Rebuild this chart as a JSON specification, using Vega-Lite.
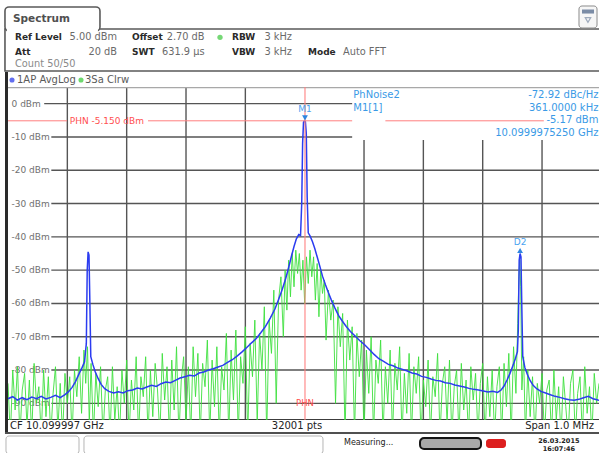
{
"$schema":"https://vega.github.io/schema/vega-lite/v6.json",
"padding":0,
"background":"white",
"spacing":0,
"config":{"font":"DejaVu Sans","view":{"stroke":null},"concat":{"spacing":0}},
"datasets":{
"blue":[{"f":-500,"db":-88.6},{"f":-492,"db":-88.0},{"f":-484,"db":-89.0},{"f":-476,"db":-88.3},{"f":-468,"db":-88.9},{"f":-460,"db":-88.1},{"f":-452,"db":-88.6},{"f":-444,"db":-87.9},{"f":-436,"db":-88.7},{"f":-428,"db":-88.2},{"f":-420,"db":-87.6},{"f":-412,"db":-88.3},{"f":-404,"db":-87.4},{"f":-398,"db":-86.5},{"f":-392,"db":-85.2},{"f":-386,"db":-83.4},{"f":-380,"db":-81.0},{"f":-375,"db":-79.2},{"f":-371,"db":-77.5},{"f":-368,"db":-72},{"f":-366.5,"db":-50},{"f":-365,"db":-44.5},{"f":-363.5,"db":-45.5},{"f":-362,"db":-60},{"f":-360.5,"db":-76},{"f":-357,"db":-78.3},{"f":-353,"db":-80.5},{"f":-348,"db":-82.6},{"f":-343,"db":-84.3},{"f":-337,"db":-85.6},{"f":-330,"db":-86.4},{"f":-322,"db":-86.9},{"f":-314,"db":-86.5},{"f":-306,"db":-86.9},{"f":-298,"db":-86.2},{"f":-290,"db":-86.0},{"f":-282,"db":-85.4},{"f":-274,"db":-85.7},{"f":-266,"db":-85.1},{"f":-258,"db":-84.6},{"f":-250,"db":-84.9},{"f":-242,"db":-84.1},{"f":-234,"db":-83.6},{"f":-226,"db":-83.8},{"f":-218,"db":-83.1},{"f":-210,"db":-82.4},{"f":-202,"db":-82.0},{"f":-194,"db":-81.6},{"f":-186,"db":-81.8},{"f":-178,"db":-80.9},{"f":-170,"db":-80.6},{"f":-162,"db":-80.0},{"f":-154,"db":-79.6},{"f":-146,"db":-79.1},{"f":-138,"db":-78.6},{"f":-130,"db":-77.7},{"f":-122,"db":-76.9},{"f":-114,"db":-75.8},{"f":-106,"db":-74.6},{"f":-98,"db":-73.3},{"f":-90,"db":-71.9},{"f":-82,"db":-70.6},{"f":-74,"db":-68.8},{"f":-66,"db":-66.9},{"f":-58,"db":-64.4},{"f":-50,"db":-61.6},{"f":-44,"db":-58.8},{"f":-38,"db":-55.9},{"f":-32,"db":-52.5},{"f":-27,"db":-49.2},{"f":-22,"db":-45.6},{"f":-18,"db":-42.9},{"f":-14,"db":-40.6},{"f":-10,"db":-39.3},{"f":-7,"db":-39.6},{"f":-5,"db":-30},{"f":-3.5,"db":-12},{"f":-2,"db":-5.6},{"f":-0.5,"db":-5.2},{"f":1.2,"db":-5.4},{"f":2.7,"db":-9},{"f":4.2,"db":-28},{"f":6,"db":-38.8},{"f":9,"db":-39.7},{"f":13,"db":-41.4},{"f":17,"db":-43.5},{"f":21,"db":-46.0},{"f":25,"db":-48.5},{"f":30,"db":-51.8},{"f":35,"db":-54.4},{"f":40,"db":-56.8},{"f":45,"db":-59.0},{"f":51,"db":-61.4},{"f":57,"db":-63.6},{"f":63,"db":-65.2},{"f":70,"db":-66.9},{"f":77,"db":-68.4},{"f":85,"db":-69.8},{"f":93,"db":-71.2},{"f":101,"db":-72.4},{"f":109,"db":-73.8},{"f":117,"db":-75.3},{"f":125,"db":-76.6},{"f":133,"db":-77.4},{"f":141,"db":-78.3},{"f":149,"db":-78.7},{"f":157,"db":-79.4},{"f":165,"db":-79.8},{"f":173,"db":-80.3},{"f":181,"db":-80.9},{"f":189,"db":-81.2},{"f":197,"db":-81.9},{"f":205,"db":-82.2},{"f":213,"db":-82.7},{"f":221,"db":-83.1},{"f":229,"db":-83.3},{"f":237,"db":-83.8},{"f":245,"db":-84.0},{"f":253,"db":-84.5},{"f":261,"db":-84.8},{"f":269,"db":-85.1},{"f":277,"db":-85.5},{"f":285,"db":-85.8},{"f":293,"db":-86.0},{"f":301,"db":-86.3},{"f":309,"db":-86.6},{"f":317,"db":-86.4},{"f":325,"db":-86.7},{"f":331,"db":-86.0},{"f":336,"db":-84.8},{"f":341,"db":-83.0},{"f":346,"db":-81.0},{"f":351,"db":-78.6},{"f":355,"db":-76.6},{"f":358.5,"db":-74.5},{"f":360,"db":-68},{"f":361.5,"db":-47},{"f":363,"db":-45},{"f":364.5,"db":-46},{"f":366,"db":-62},{"f":367.5,"db":-76},{"f":371,"db":-79.2},{"f":375,"db":-81.2},{"f":380,"db":-83.2},{"f":385,"db":-84.6},{"f":391,"db":-85.6},{"f":398,"db":-86.4},{"f":406,"db":-86.9},{"f":414,"db":-87.4},{"f":422,"db":-87.9},{"f":430,"db":-88.2},{"f":438,"db":-88.6},{"f":446,"db":-88.9},{"f":454,"db":-89.1},{"f":462,"db":-88.8},{"f":470,"db":-88.3},{"f":478,"db":-87.9},{"f":486,"db":-88.6},{"f":494,"db":-89.0},{"f":500,"db":-89.2}],
"green":[{"f":-500,"db":-84},{"f":-496,"db":-100},{"f":-492,"db":-80},{"f":-488,"db":-92},{"f":-484,"db":-79},{"f":-480,"db":-100},{"f":-476,"db":-86},{"f":-472,"db":-81},{"f":-468,"db":-97},{"f":-464,"db":-83},{"f":-460,"db":-100},{"f":-456,"db":-78},{"f":-452,"db":-90},{"f":-448,"db":-85},{"f":-444,"db":-100},{"f":-440,"db":-80},{"f":-436,"db":-94},{"f":-432,"db":-82},{"f":-428,"db":-100},{"f":-424,"db":-87},{"f":-420,"db":-79},{"f":-416,"db":-98},{"f":-412,"db":-84},{"f":-408,"db":-100},{"f":-404,"db":-81},{"f":-400,"db":-90},{"f":-396,"db":-82},{"f":-392,"db":-100},{"f":-388,"db":-80},{"f":-384,"db":-88},{"f":-380,"db":-76},{"f":-376,"db":-93},{"f":-372,"db":-74},{"f":-369,"db":-84},{"f":-366,"db":-73},{"f":-363,"db":-96},{"f":-360,"db":-78},{"f":-356,"db":-100},{"f":-352,"db":-81},{"f":-348,"db":-91},{"f":-344,"db":-79},{"f":-340,"db":-100},{"f":-336,"db":-86},{"f":-332,"db":-82},{"f":-328,"db":-100},{"f":-324,"db":-79},{"f":-320,"db":-95},{"f":-316,"db":-85},{"f":-312,"db":-100},{"f":-308,"db":-80},{"f":-304,"db":-90},{"f":-300,"db":-77},{"f":-296,"db":-100},{"f":-292,"db":-83},{"f":-288,"db":-92},{"f":-284,"db":-76},{"f":-280,"db":-100},{"f":-276,"db":-82},{"f":-272,"db":-88},{"f":-268,"db":-76},{"f":-264,"db":-100},{"f":-260,"db":-80},{"f":-256,"db":-94},{"f":-252,"db":-78},{"f":-248,"db":-86},{"f":-244,"db":-100},{"f":-240,"db":-75},{"f":-236,"db":-89},{"f":-232,"db":-79},{"f":-228,"db":-100},{"f":-224,"db":-77},{"f":-220,"db":-92},{"f":-216,"db":-73},{"f":-212,"db":-100},{"f":-208,"db":-83},{"f":-204,"db":-76},{"f":-200,"db":-96},{"f":-196,"db":-79},{"f":-192,"db":-100},{"f":-188,"db":-73},{"f":-184,"db":-88},{"f":-180,"db":-75},{"f":-176,"db":-100},{"f":-172,"db":-78},{"f":-168,"db":-85},{"f":-164,"db":-71},{"f":-160,"db":-100},{"f":-156,"db":-77},{"f":-152,"db":-91},{"f":-148,"db":-73},{"f":-144,"db":-100},{"f":-140,"db":-79},{"f":-136,"db":-86},{"f":-132,"db":-69},{"f":-128,"db":-100},{"f":-124,"db":-74},{"f":-120,"db":-89},{"f":-116,"db":-68},{"f":-112,"db":-100},{"f":-108,"db":-76},{"f":-104,"db":-84},{"f":-100,"db":-67},{"f":-96,"db":-100},{"f":-92,"db":-72},{"f":-88,"db":-82},{"f":-84,"db":-65},{"f":-80,"db":-96},{"f":-76,"db":-69},{"f":-72,"db":-80},{"f":-68,"db":-61},{"f":-64,"db":-100},{"f":-60,"db":-65},{"f":-56,"db":-75},{"f":-52,"db":-56},{"f":-48,"db":-90},{"f":-44,"db":-59},{"f":-40,"db":-52},{"f":-36,"db":-70},{"f":-33,"db":-50},{"f":-30,"db":-62},{"f":-27,"db":-47},{"f":-24,"db":-58},{"f":-21,"db":-45},{"f":-18,"db":-55},{"f":-15,"db":-44},{"f":-12,"db":-51},{"f":-9,"db":-45},{"f":-6,"db":-56},{"f":-3,"db":-47},{"f":0,"db":-60},{"f":3,"db":-46},{"f":6,"db":-54},{"f":9,"db":-44},{"f":12,"db":-52},{"f":15,"db":-46},{"f":18,"db":-59},{"f":21,"db":-48},{"f":24,"db":-64},{"f":27,"db":-50},{"f":30,"db":-57},{"f":33,"db":-53},{"f":36,"db":-71},{"f":40,"db":-56},{"f":44,"db":-65},{"f":48,"db":-59},{"f":52,"db":-90},{"f":56,"db":-61},{"f":60,"db":-73},{"f":64,"db":-63},{"f":68,"db":-100},{"f":72,"db":-65},{"f":76,"db":-77},{"f":80,"db":-67},{"f":84,"db":-100},{"f":88,"db":-69},{"f":92,"db":-82},{"f":96,"db":-71},{"f":100,"db":-100},{"f":104,"db":-74},{"f":108,"db":-87},{"f":112,"db":-70},{"f":116,"db":-100},{"f":120,"db":-77},{"f":124,"db":-84},{"f":128,"db":-71},{"f":132,"db":-100},{"f":136,"db":-79},{"f":140,"db":-90},{"f":144,"db":-74},{"f":148,"db":-100},{"f":152,"db":-78},{"f":156,"db":-86},{"f":160,"db":-73},{"f":164,"db":-100},{"f":168,"db":-81},{"f":172,"db":-93},{"f":176,"db":-75},{"f":180,"db":-100},{"f":184,"db":-79},{"f":188,"db":-87},{"f":192,"db":-76},{"f":196,"db":-100},{"f":200,"db":-83},{"f":204,"db":-91},{"f":208,"db":-77},{"f":212,"db":-100},{"f":216,"db":-82},{"f":220,"db":-88},{"f":224,"db":-75},{"f":228,"db":-100},{"f":232,"db":-84},{"f":236,"db":-79},{"f":240,"db":-96},{"f":244,"db":-77},{"f":248,"db":-100},{"f":252,"db":-85},{"f":256,"db":-80},{"f":260,"db":-100},{"f":264,"db":-78},{"f":268,"db":-92},{"f":272,"db":-83},{"f":276,"db":-100},{"f":280,"db":-79},{"f":284,"db":-89},{"f":288,"db":-81},{"f":292,"db":-100},{"f":296,"db":-84},{"f":300,"db":-78},{"f":304,"db":-100},{"f":308,"db":-82},{"f":312,"db":-94},{"f":316,"db":-80},{"f":320,"db":-100},{"f":324,"db":-85},{"f":328,"db":-79},{"f":332,"db":-100},{"f":336,"db":-78},{"f":340,"db":-91},{"f":344,"db":-75},{"f":348,"db":-100},{"f":352,"db":-73},{"f":356,"db":-87},{"f":359,"db":-66},{"f":361,"db":-52},{"f":362.5,"db":-47},{"f":364,"db":-55},{"f":366,"db":-86},{"f":369,"db":-76},{"f":372,"db":-100},{"f":376,"db":-80},{"f":380,"db":-94},{"f":384,"db":-82},{"f":388,"db":-100},{"f":392,"db":-84},{"f":396,"db":-90},{"f":400,"db":-81},{"f":404,"db":-100},{"f":408,"db":-86},{"f":412,"db":-83},{"f":416,"db":-100},{"f":420,"db":-80},{"f":424,"db":-95},{"f":428,"db":-85},{"f":432,"db":-100},{"f":436,"db":-82},{"f":440,"db":-91},{"f":444,"db":-100},{"f":448,"db":-84},{"f":452,"db":-80},{"f":456,"db":-100},{"f":460,"db":-87},{"f":464,"db":-82},{"f":468,"db":-100},{"f":472,"db":-79},{"f":476,"db":-93},{"f":480,"db":-85},{"f":484,"db":-100},{"f":488,"db":-81},{"f":492,"db":-90},{"f":496,"db":-84}],
"hgrid":[{"db":0,"lab":"0 dBm"},{"db":-10,"lab":"-10 dBm"},{"db":-20,"lab":"-20 dBm"},{"db":-30,"lab":"-30 dBm"},{"db":-40,"lab":"-40 dBm"},{"db":-50,"lab":"-50 dBm"},{"db":-60,"lab":"-60 dBm"},{"db":-70,"lab":"-70 dBm"},{"db":-80,"lab":"-80 dBm"},{"db":-90,"lab":"-90 dBm"}],
"vgrid":[{"f":-400},{"f":-300},{"f":-200},{"f":-100},{"f":100},{"f":200},{"f":300},{"f":400}],
"phn":[{"f":0.5,"db":-5.15,"t":"PHN -5.150 dBm","b":"PHN"}],
"markers":[{"name":"M1","f":0.5,"db":-5.17},{"name":"D2","f":363,"db":-45}]
},
"vconcat":[
{"width":599,"height":72,
 "layer":[
  {"data":{"values":[{}]},"mark":{"type":"rect","fill":"white","stroke":"#5a5a5a","strokeWidth":1.6,"clip":true},
   "encoding":{"x":{"datum":0.83,"type":"quantitative","scale":{"domain":[0,100]},"axis":null},"x2":{"datum":100.5},"y":{"datum":40.28,"type":"quantitative","scale":{"domain":[0,100],"reverse":true},"axis":null},"y2":{"datum":98.6}}},
  {"data":{"values":[{}]},"mark":{"type":"rect","fill":"white","stroke":"#5a5a5a","strokeWidth":1.6,"cornerRadius":4,"clip":true},
   "encoding":{"x":{"datum":0.83,"type":"quantitative","scale":{"domain":[0,100]},"axis":null},"x2":{"datum":16.69},"y":{"datum":9.72,"type":"quantitative","scale":{"domain":[0,100],"reverse":true},"axis":null},"y2":{"datum":43.06}}},
  {"data":{"values":[{}]},"mark":{"type":"rect","fill":"white","strokeWidth":0,"clip":true},
   "encoding":{"x":{"datum":1.15,"type":"quantitative","scale":{"domain":[0,100]},"axis":null},"x2":{"datum":16.35},"y":{"datum":38.9,"type":"quantitative","scale":{"domain":[0,100],"reverse":true},"axis":null},"y2":{"datum":47.5}}},
  {"data":{"values":[{}]},"mark":{"type":"rect","fill":"#f6f6f6","stroke":"#8c8c8c","strokeWidth":1,"cornerRadius":3,"clip":true},
   "encoding":{"x":{"datum":96.66,"type":"quantitative","scale":{"domain":[0,100]},"axis":null},"x2":{"datum":99.67},"y":{"datum":8.33,"type":"quantitative","scale":{"domain":[0,100],"reverse":true},"axis":null},"y2":{"datum":38.9}}},
  {"data":{"values":[{}]},"mark":{"type":"rect","fill":"#7b8ca6","clip":true},
   "encoding":{"x":{"datum":97.16,"type":"quantitative","scale":{"domain":[0,100]},"axis":null},"x2":{"datum":99.17},"y":{"datum":13.2,"type":"quantitative","scale":{"domain":[0,100],"reverse":true},"axis":null},"y2":{"datum":18.8}}},
  {"data":{"values":[{}]},"mark":{"type":"point","shape":"triangle-down","size":30,"filled":false,"stroke":"#7b8ca6","strokeWidth":1.2,"clip":true},
   "encoding":{"x":{"datum":98.16,"type":"quantitative","scale":{"domain":[0,100]},"axis":null},"y":{"datum":27.8,"type":"quantitative","scale":{"domain":[0,100],"reverse":true},"axis":null}}},
  {"data":{"values":[{"t":"Spectrum"}]},"mark":{"type":"text","align":"left","baseline":"middle","fontSize":10.5,"fontWeight":"bold","color":"#505050"},
   "encoding":{"text":{"field":"t"},"x":{"datum":2.17,"type":"quantitative","scale":{"domain":[0,100]},"axis":null},"y":{"datum":26.8,"type":"quantitative","scale":{"domain":[0,100],"reverse":true},"axis":null}}},
  {"data":{"values":[{"t":"Ref Level\nAtt"}]},"mark":{"type":"text","align":"left","baseline":"top","lineBreak":"\n","lineHeight":15,"fontSize":9,"fontWeight":"bold","color":"#2a2a2a"},
   "encoding":{"text":{"field":"t"},"x":{"datum":2.5,"type":"quantitative","scale":{"domain":[0,100]},"axis":null},"y":{"datum":45.8,"type":"quantitative","scale":{"domain":[0,100],"reverse":true},"axis":null}}},
  {"data":{"values":[{"t":"5.00 dBm\n20 dB"}]},"mark":{"type":"text","align":"right","baseline":"top","lineBreak":"\n","lineHeight":15,"fontSize":9.8,"color":"#6a6a6a"},
   "encoding":{"text":{"field":"t"},"x":{"datum":19.53,"type":"quantitative","scale":{"domain":[0,100]},"axis":null},"y":{"datum":45.1,"type":"quantitative","scale":{"domain":[0,100],"reverse":true},"axis":null}}},
  {"data":{"values":[{"t":"Offset\nSWT"}]},"mark":{"type":"text","align":"left","baseline":"top","lineBreak":"\n","lineHeight":15,"fontSize":9,"fontWeight":"bold","color":"#2a2a2a"},
   "encoding":{"text":{"field":"t"},"x":{"datum":22.04,"type":"quantitative","scale":{"domain":[0,100]},"axis":null},"y":{"datum":45.8,"type":"quantitative","scale":{"domain":[0,100],"reverse":true},"axis":null}}},
  {"data":{"values":[{"t":"2.70 dB\n631.9 µs"}]},"mark":{"type":"text","align":"right","baseline":"top","lineBreak":"\n","lineHeight":15,"fontSize":9.8,"color":"#6a6a6a"},
   "encoding":{"text":{"field":"t"},"x":{"datum":34.15,"type":"quantitative","scale":{"domain":[0,100]},"axis":null},"y":{"datum":45.1,"type":"quantitative","scale":{"domain":[0,100],"reverse":true},"axis":null}}},
  {"data":{"values":[{}]},"mark":{"type":"point","shape":"circle","size":28,"filled":true,"color":"#3cc83c"},
   "encoding":{"x":{"datum":36.73,"type":"quantitative","scale":{"domain":[0,100]},"axis":null},"y":{"datum":51.8,"type":"quantitative","scale":{"domain":[0,100],"reverse":true},"axis":null}}},
  {"data":{"values":[{"t":"RBW\nVBW"}]},"mark":{"type":"text","align":"left","baseline":"top","lineBreak":"\n","lineHeight":15,"fontSize":9,"fontWeight":"bold","color":"#2a2a2a"},
   "encoding":{"text":{"field":"t"},"x":{"datum":38.73,"type":"quantitative","scale":{"domain":[0,100]},"axis":null},"y":{"datum":45.8,"type":"quantitative","scale":{"domain":[0,100],"reverse":true},"axis":null}}},
  {"data":{"values":[{"t":"3 kHz\n3 kHz"}]},"mark":{"type":"text","align":"right","baseline":"top","lineBreak":"\n","lineHeight":15,"fontSize":9.8,"color":"#6a6a6a"},
   "encoding":{"text":{"field":"t"},"x":{"datum":48.75,"type":"quantitative","scale":{"domain":[0,100]},"axis":null},"y":{"datum":45.1,"type":"quantitative","scale":{"domain":[0,100],"reverse":true},"axis":null}}},
  {"data":{"values":[{"t":"Mode"}]},"mark":{"type":"text","align":"left","baseline":"middle","fontSize":9,"fontWeight":"bold","color":"#2a2a2a"},
   "encoding":{"text":{"field":"t"},"x":{"datum":51.42,"type":"quantitative","scale":{"domain":[0,100]},"axis":null},"y":{"datum":72.6,"type":"quantitative","scale":{"domain":[0,100],"reverse":true},"axis":null}}},
  {"data":{"values":[{"t":"Auto FFT"}]},"mark":{"type":"text","align":"left","baseline":"middle","fontSize":9.8,"color":"#6a6a6a"},
   "encoding":{"text":{"field":"t"},"x":{"datum":57.26,"type":"quantitative","scale":{"domain":[0,100]},"axis":null},"y":{"datum":72.6,"type":"quantitative","scale":{"domain":[0,100],"reverse":true},"axis":null}}},
  {"data":{"values":[{"t":"Count 50/50"}]},"mark":{"type":"text","align":"left","baseline":"middle","fontSize":9.8,"color":"#8a8a8a"},
   "encoding":{"text":{"field":"t"},"x":{"datum":2.5,"type":"quantitative","scale":{"domain":[0,100]},"axis":null},"y":{"datum":88.9,"type":"quantitative","scale":{"domain":[0,100],"reverse":true},"axis":null}}}
 ]},
{"spacing":0,
 "hconcat":[
  {"width":5,"height":360,"data":{"values":[{}]},"mark":{"type":"text","text":""},"encoding":{}},
  {"width":3,"height":360,"view":{"fill":"#2a2a2a"},"data":{"values":[{}]},"mark":{"type":"text","text":""},"encoding":{}},
  {"spacing":0,
   "vconcat":[
    {"width":591,"height":15,
     "layer":[
      {"data":{"values":[{}]},"mark":{"type":"point","shape":"circle","size":26,"filled":true,"color":"#2030e8"},
       "encoding":{"x":{"datum":0.68,"type":"quantitative","scale":{"domain":[0,100]},"axis":null},"y":{"datum":53.3,"type":"quantitative","scale":{"domain":[0,100],"reverse":true},"axis":null}}},
      {"data":{"values":[{"t":"1AP AvgLog"}]},"mark":{"type":"text","align":"left","baseline":"middle","fontSize":10,"color":"#5a5a5a"},
       "encoding":{"text":{"field":"t"},"x":{"datum":1.52,"type":"quantitative","scale":{"domain":[0,100]},"axis":null},"y":{"datum":53.3,"type":"quantitative","scale":{"domain":[0,100],"reverse":true},"axis":null}}},
      {"data":{"values":[{}]},"mark":{"type":"point","shape":"circle","size":26,"filled":true,"color":"#30c830"},
       "encoding":{"x":{"datum":12.35,"type":"quantitative","scale":{"domain":[0,100]},"axis":null},"y":{"datum":53.3,"type":"quantitative","scale":{"domain":[0,100],"reverse":true},"axis":null}}},
      {"data":{"values":[{"t":"3Sa Clrw"}]},"mark":{"type":"text","align":"left","baseline":"middle","fontSize":10,"color":"#5a5a5a"},
       "encoding":{"text":{"field":"t"},"x":{"datum":13.03,"type":"quantitative","scale":{"domain":[0,100]},"axis":null},"y":{"datum":53.3,"type":"quantitative","scale":{"domain":[0,100],"reverse":true},"axis":null}}}
     ]},
    {"width":591,"height":333,
     "layer":[
      {"data":{"name":"hgrid"},"transform":[{"filter":"datum.db == 0"}],"mark":{"type":"rule","color":"#555555","strokeWidth":1.4,"clip":true},
       "encoding":{"x":{"datum":-439,"type":"quantitative","scale":{"domain":[-500,496]},"axis":null},"x2":{"datum":496},"y":{"field":"db","type":"quantitative","scale":{"domain":[-95,5]},"axis":null}}},
      {"data":{"name":"hgrid"},"transform":[{"filter":"datum.db < 0"}],"mark":{"type":"rule","color":"#555555","strokeWidth":1.4,"clip":true},
       "encoding":{"x":{"datum":-427,"type":"quantitative","scale":{"domain":[-500,496]},"axis":null},"x2":{"datum":496},"y":{"field":"db","type":"quantitative","scale":{"domain":[-95,5]},"axis":null}}},
      {"data":{"name":"vgrid"},"mark":{"type":"rule","color":"#555555","strokeWidth":1.4,"clip":true},
       "encoding":{"x":{"field":"f","type":"quantitative","scale":{"domain":[-500,496]},"axis":null},"y":{"datum":-95,"type":"quantitative","scale":{"domain":[-95,5]},"axis":null},"y2":{"datum":5}}},
      {"data":{"values":[{}]},"mark":{"type":"rect","fill":"white","clip":true},
       "encoding":{"x":{"datum":80,"type":"quantitative","scale":{"domain":[-500,496]},"axis":null},"x2":{"datum":496},"y":{"datum":-10.9,"type":"quantitative","scale":{"domain":[-95,5]},"axis":null},"y2":{"datum":5}}},
      {"data":{"values":[{}]},"mark":{"type":"rule","color":"#a8a8a8","strokeWidth":2.5,"clip":true},
       "encoding":{"x":{"datum":-500,"type":"quantitative","scale":{"domain":[-500,496]},"axis":null},"x2":{"datum":496},"y":{"datum":5,"type":"quantitative","scale":{"domain":[-95,5]},"axis":null}}},
      {"data":{"values":[{}]},"mark":{"type":"rule","color":"#3c3c3c","strokeWidth":2,"clip":true},
       "encoding":{"x":{"datum":-500,"type":"quantitative","scale":{"domain":[-500,496]},"axis":null},"x2":{"datum":496},"y":{"datum":-95,"type":"quantitative","scale":{"domain":[-95,5]},"axis":null}}},
      {"data":{"name":"hgrid"},"mark":{"type":"text","align":"left","baseline":"middle","fontSize":9,"color":"#707070","clip":true},
       "encoding":{"text":{"field":"lab"},"x":{"datum":-494,"type":"quantitative","scale":{"domain":[-500,496]},"axis":null},"y":{"field":"db","type":"quantitative","scale":{"domain":[-95,5]},"axis":null}}},
      {"data":{"name":"green"},"mark":{"type":"line","color":"#3ee03e","strokeWidth":1,"opacity":0.9,"clip":true},
       "encoding":{"x":{"field":"f","type":"quantitative","scale":{"domain":[-500,496]},"axis":null},"y":{"field":"db","type":"quantitative","scale":{"domain":[-95,5]},"axis":null}}},
      {"data":{"name":"blue"},"mark":{"type":"line","color":"#2b3cf0","strokeWidth":1.5,"clip":true},
       "encoding":{"x":{"field":"f","type":"quantitative","scale":{"domain":[-500,496]},"axis":null},"y":{"field":"db","type":"quantitative","scale":{"domain":[-95,5]},"axis":null}}},
      {"data":{"name":"phn"},"mark":{"type":"rule","color":"#ff7f7f","strokeWidth":1,"clip":true},
       "encoding":{"x":{"datum":-500,"type":"quantitative","scale":{"domain":[-500,496]},"axis":null},"x2":{"datum":-400.5},"y":{"field":"db","type":"quantitative","scale":{"domain":[-95,5]},"axis":null}}},
      {"data":{"name":"phn"},"mark":{"type":"rule","color":"#ff7f7f","strokeWidth":1,"clip":true},
       "encoding":{"x":{"datum":-264,"type":"quantitative","scale":{"domain":[-500,496]},"axis":null},"x2":{"datum":80},"y":{"field":"db","type":"quantitative","scale":{"domain":[-95,5]},"axis":null}}},
      {"data":{"name":"phn"},"mark":{"type":"rule","color":"#ff7f7f","strokeWidth":1,"clip":true},
       "encoding":{"x":{"datum":136,"type":"quantitative","scale":{"domain":[-500,496]},"axis":null},"x2":{"datum":403},"y":{"field":"db","type":"quantitative","scale":{"domain":[-95,5]},"axis":null}}},
      {"data":{"name":"phn"},"mark":{"type":"rule","color":"#ff7f7f","strokeWidth":1.2,"opacity":0.9,"clip":true},
       "encoding":{"x":{"field":"f","type":"quantitative","scale":{"domain":[-500,496]},"axis":null},"y":{"datum":-95,"type":"quantitative","scale":{"domain":[-95,5]},"axis":null},"y2":{"datum":5}}},
      {"data":{"name":"phn"},"mark":{"type":"text","align":"left","baseline":"middle","fontSize":9,"color":"#ff5050","clip":true},
       "encoding":{"text":{"field":"t"},"x":{"datum":-396,"type":"quantitative","scale":{"domain":[-500,496]},"axis":null},"y":{"field":"db","type":"quantitative","scale":{"domain":[-95,5]},"axis":null}}},
      {"data":{"name":"phn"},"mark":{"type":"text","align":"center","baseline":"middle","fontSize":8.5,"color":"#ff5050","clip":true},
       "encoding":{"text":{"field":"b"},"x":{"field":"f","type":"quantitative","scale":{"domain":[-500,496]},"axis":null},"y":{"datum":-90,"type":"quantitative","scale":{"domain":[-95,5]},"axis":null}}},
      {"data":{"values":[{"t":"PhNoise2\n\nM1[1]"}]},"mark":{"type":"text","align":"left","baseline":"top","lineBreak":"\n","lineHeight":12.75,"fontSize":10,"color":"#3a9ae6","clip":true},
       "encoding":{"text":{"field":"t"},"x":{"datum":82,"type":"quantitative","scale":{"domain":[-500,496]},"axis":null},"y":{"datum":4.1,"type":"quantitative","scale":{"domain":[-95,5]},"axis":null}}},
      {"data":{"values":[{"t":"-72.92 dBc/Hz\n361.0000 kHz\n-5.17 dBm\n10.0999975250 GHz"}]},"mark":{"type":"text","align":"right","baseline":"top","lineBreak":"\n","lineHeight":12.75,"fontSize":10,"color":"#3a9ae6","clip":true},
       "encoding":{"text":{"field":"t"},"x":{"datum":495,"type":"quantitative","scale":{"domain":[-500,496]},"axis":null},"y":{"datum":4.1,"type":"quantitative","scale":{"domain":[-95,5]},"axis":null}}},
      {"data":{"name":"markers"},"mark":{"type":"point","filled":true,"size":34,"color":"#2f86e0","opacity":1,"yOffset":-3,"clip":true},
       "encoding":{"x":{"field":"f","type":"quantitative","scale":{"domain":[-500,496]},"axis":null},"y":{"field":"db","type":"quantitative","scale":{"domain":[-95,5]},"axis":null},"shape":{"field":"name","type":"nominal","scale":{"domain":["M1","D2"],"range":["triangle-down","triangle-up"]},"legend":null}}},
      {"data":{"name":"markers"},"mark":{"type":"text","align":"center","baseline":"middle","fontSize":9,"color":"#4aa3f0","dy":-12,"clip":true},
       "encoding":{"text":{"field":"name"},"x":{"field":"f","type":"quantitative","scale":{"domain":[-500,496]},"axis":null},"y":{"field":"db","type":"quantitative","scale":{"domain":[-95,5]},"axis":null}}}
     ]},
    {"width":591,"height":12,
     "layer":[
      {"data":{"values":[{"t":"CF 10.099997 GHz"}]},"mark":{"type":"text","align":"left","baseline":"middle","fontSize":10,"color":"#222222","clip":true},
       "encoding":{"text":{"field":"t"},"x":{"datum":0.34,"type":"quantitative","scale":{"domain":[0,100]},"axis":null},"y":{"datum":50,"type":"quantitative","scale":{"domain":[0,100],"reverse":true},"axis":null}}},
      {"data":{"values":[{"t":"32001 pts"}]},"mark":{"type":"text","align":"center","baseline":"middle","fontSize":10,"color":"#222222","clip":true},
       "encoding":{"text":{"field":"t"},"x":{"datum":48.9,"type":"quantitative","scale":{"domain":[0,100]},"axis":null},"y":{"datum":50,"type":"quantitative","scale":{"domain":[0,100],"reverse":true},"axis":null}}},
      {"data":{"values":[{"t":"Span 1.0 MHz"}]},"mark":{"type":"text","align":"right","baseline":"middle","fontSize":10,"color":"#222222","clip":true},
       "encoding":{"text":{"field":"t"},"x":{"datum":99.15,"type":"quantitative","scale":{"domain":[0,100]},"axis":null},"y":{"datum":50,"type":"quantitative","scale":{"domain":[0,100],"reverse":true},"axis":null}}}
     ]}
   ]}
 ]},
{"width":599,"height":21,
 "layer":[
  {"data":{"values":[{}]},"mark":{"type":"rect","fill":"#505050","clip":true},
   "encoding":{"x":{"datum":0.83,"type":"quantitative","scale":{"domain":[0,100]},"axis":null},"x2":{"datum":100},"y":{"datum":0,"type":"quantitative","scale":{"domain":[0,100],"reverse":true},"axis":null},"y2":{"datum":9.5}}},
  {"data":{"values":[{}]},"mark":{"type":"rect","fill":"white","stroke":"#b5b5b5","strokeWidth":1,"cornerRadius":3,"clip":true},
   "encoding":{"x":{"datum":1.0,"type":"quantitative","scale":{"domain":[0,100]},"axis":null},"x2":{"datum":13.19},"y":{"datum":19,"type":"quantitative","scale":{"domain":[0,100],"reverse":true},"axis":null},"y2":{"datum":104}}},
  {"data":{"values":[{}]},"mark":{"type":"rect","fill":"white","stroke":"#b5b5b5","strokeWidth":1,"cornerRadius":3,"clip":true},
   "encoding":{"x":{"datum":14.02,"type":"quantitative","scale":{"domain":[0,100]},"axis":null},"x2":{"datum":53.92},"y":{"datum":19,"type":"quantitative","scale":{"domain":[0,100],"reverse":true},"axis":null},"y2":{"datum":104}}},
  {"data":{"values":[{"t":"Measuring..."}]},"mark":{"type":"text","align":"left","baseline":"middle","fontSize":8,"color":"#222222","clip":true},
   "encoding":{"text":{"field":"t"},"x":{"datum":57.43,"type":"quantitative","scale":{"domain":[0,100]},"axis":null},"y":{"datum":52.4,"type":"quantitative","scale":{"domain":[0,100],"reverse":true},"axis":null}}},
  {"data":{"values":[{}]},"mark":{"type":"rect","fill":"#a9a9a9","stroke":"#151515","strokeWidth":2,"cornerRadius":4,"clip":true},
   "encoding":{"x":{"datum":70.12,"type":"quantitative","scale":{"domain":[0,100]},"axis":null},"x2":{"datum":80.3},"y":{"datum":28.6,"type":"quantitative","scale":{"domain":[0,100],"reverse":true},"axis":null},"y2":{"datum":81}}},
  {"data":{"values":[{}]},"mark":{"type":"rect","fill":"#dd1f1f","cornerRadius":3,"clip":true},
   "encoding":{"x":{"datum":81.14,"type":"quantitative","scale":{"domain":[0,100]},"axis":null},"x2":{"datum":84.47},"y":{"datum":33,"type":"quantitative","scale":{"domain":[0,100],"reverse":true},"axis":null},"y2":{"datum":76}}},
  {"data":{"values":[{"t":"26.03.2015\n16:07:46"}]},"mark":{"type":"text","align":"center","baseline":"top","lineBreak":"\n","lineHeight":8,"fontSize":6.5,"fontWeight":"bold","color":"#222222","clip":true},
   "encoding":{"text":{"field":"t"},"x":{"datum":93.3,"type":"quantitative","scale":{"domain":[0,100]},"axis":null},"y":{"datum":27,"type":"quantitative","scale":{"domain":[0,100],"reverse":true},"axis":null}}}
 ]}
]
}
